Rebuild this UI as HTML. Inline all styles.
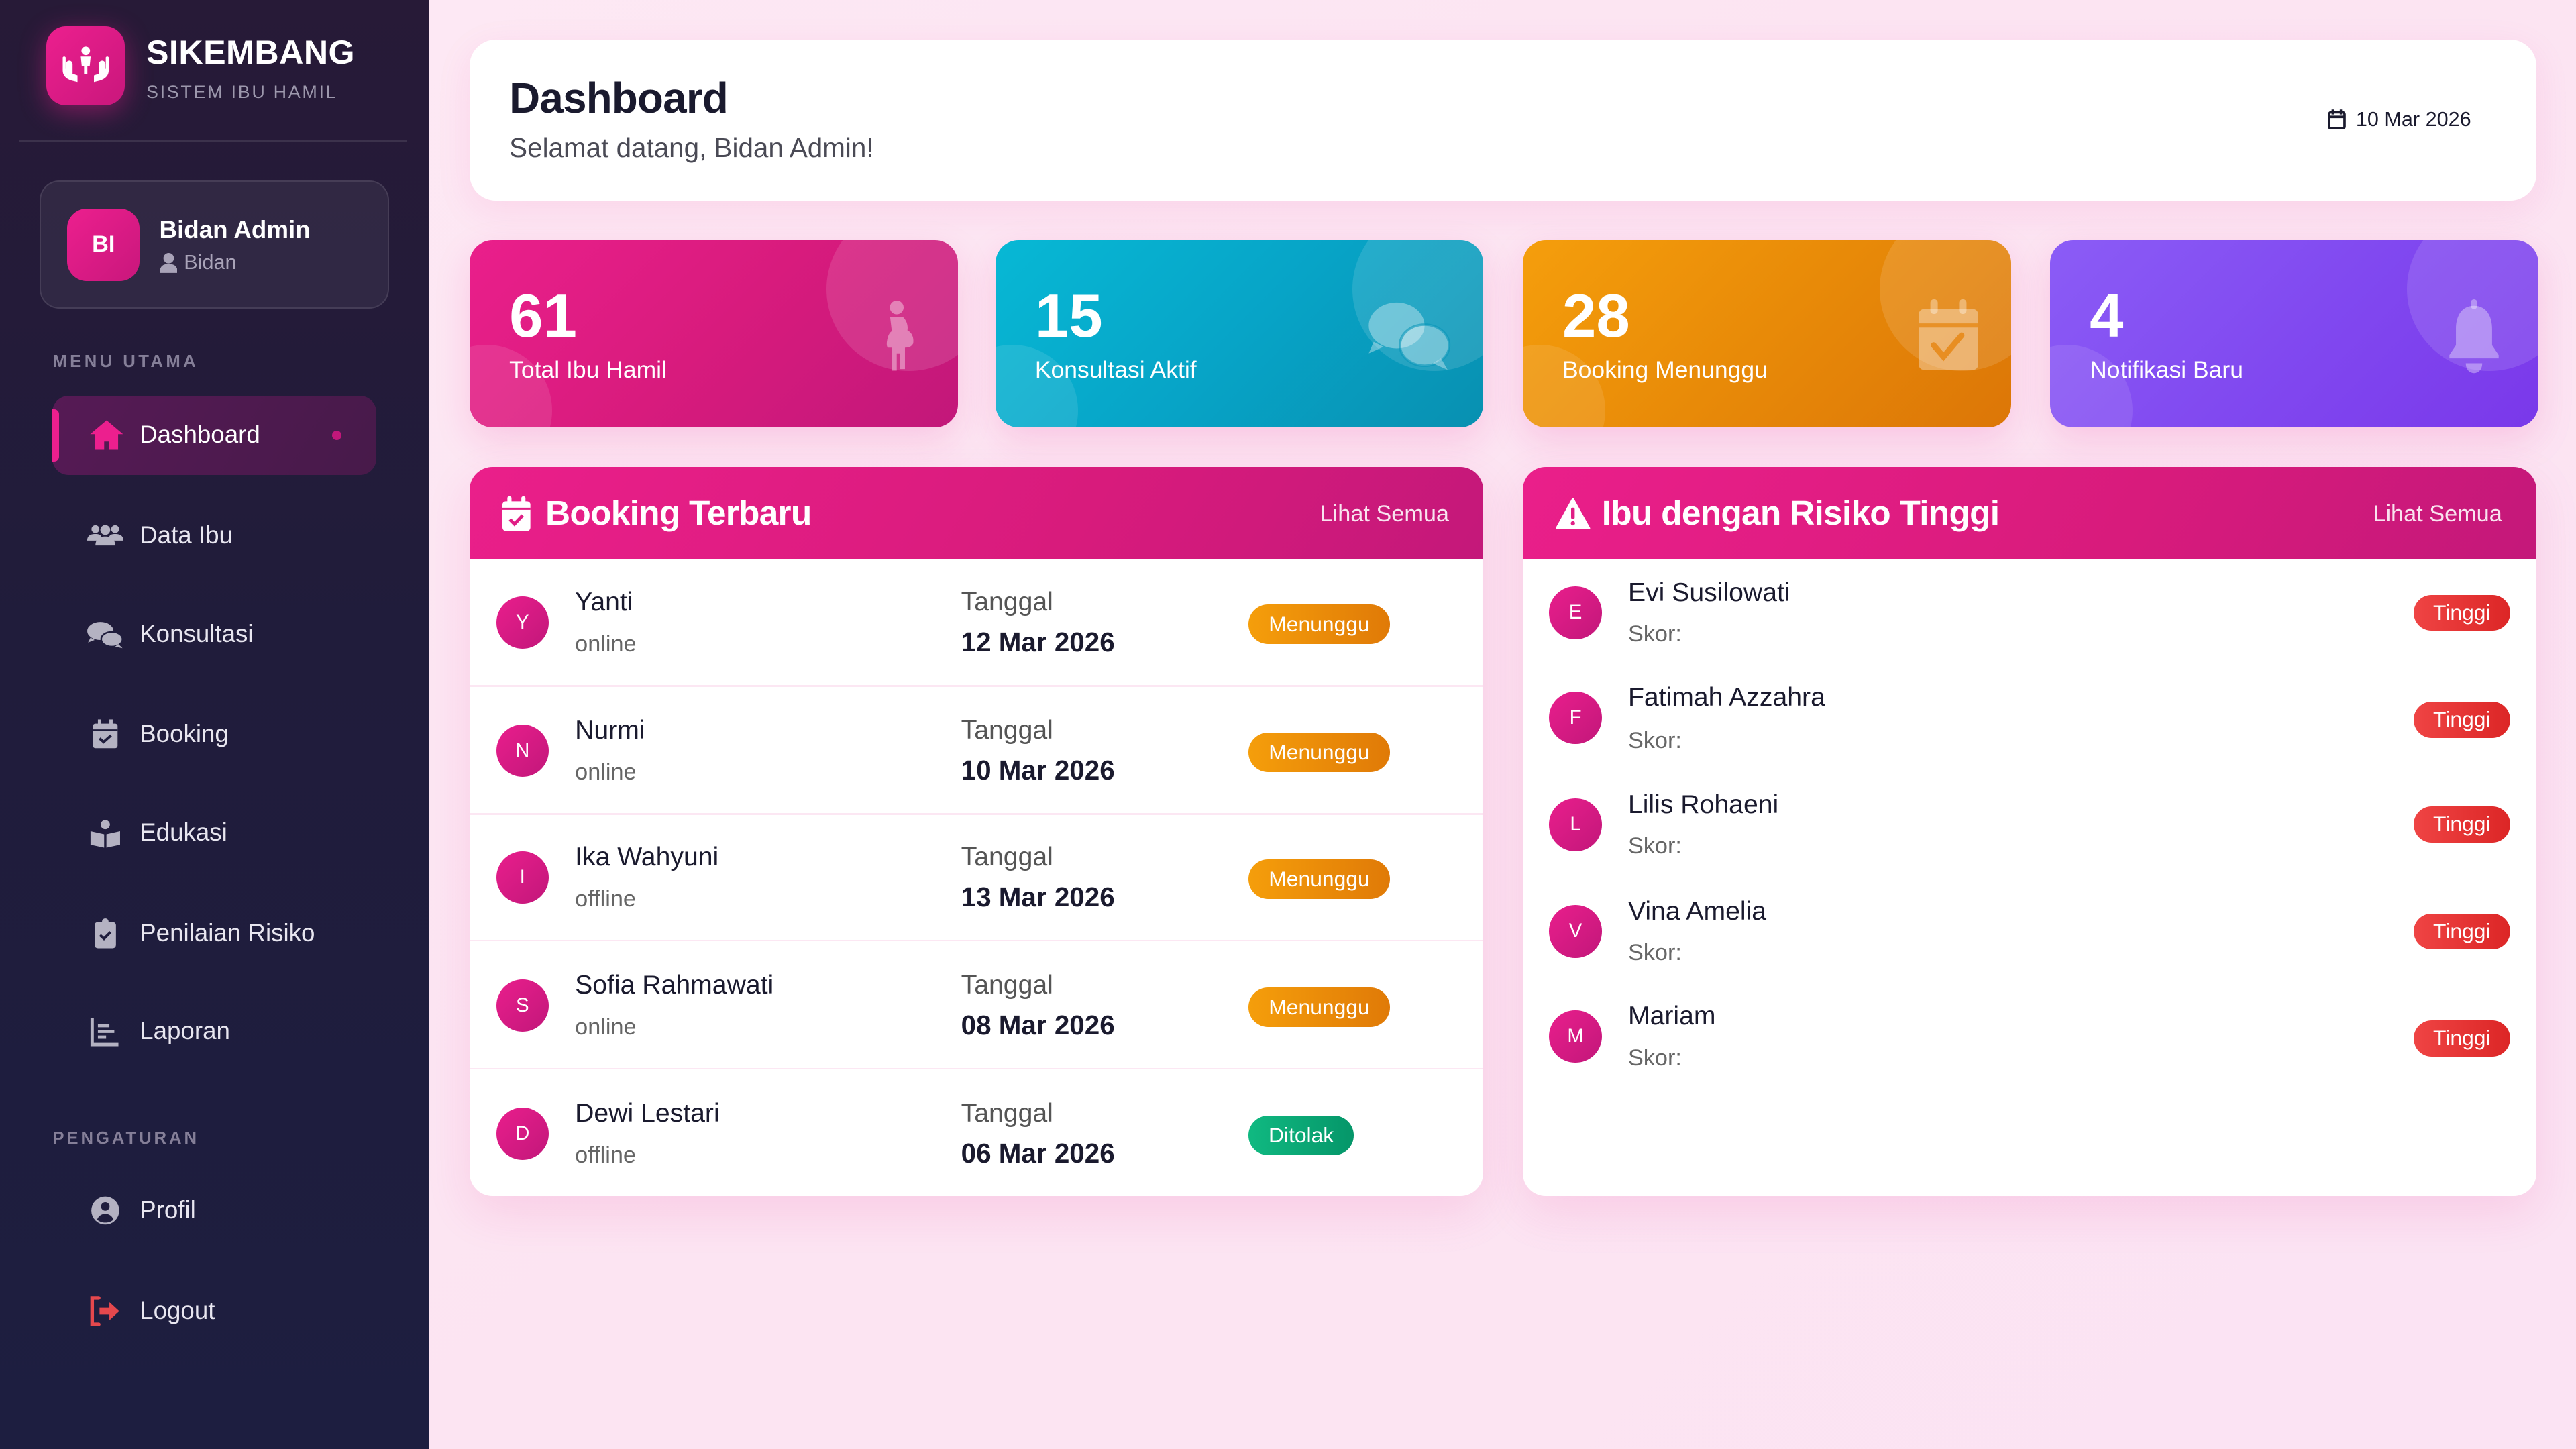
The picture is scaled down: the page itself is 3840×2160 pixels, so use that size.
<!DOCTYPE html>
<html><head><meta charset="utf-8">
<style>
*{margin:0;padding:0;box-sizing:border-box}
html,body{width:3840px;height:2160px;overflow:hidden;background:#fce6f3}
#w{position:absolute;left:0;top:0;width:1568px;height:882px;zoom:2.44898;font-family:"Liberation Sans",sans-serif;background:linear-gradient(135deg,#fde9f4 0%,#fce4f2 50%,#fbe3f3 100%);overflow:hidden}
.a{position:absolute;white-space:nowrap}
.sb{position:absolute;left:0;top:0;width:261px;height:882px;background:linear-gradient(180deg,#271a37 0%,#201c3b 45%,#1d1e40 100%)}
.mi{position:absolute;left:85px;height:20px;line-height:20px;font-size:15px;color:#e8e6f0}
.ic{position:absolute;left:53px;width:22px;height:20px}
.sec{position:absolute;left:32px;font-size:10.5px;letter-spacing:1.8px;color:#857f98;font-weight:bold;height:14px;line-height:14px}
.card{position:absolute;top:146px;width:297px;height:114px;border-radius:14px;overflow:hidden;box-shadow:0 8px 22px rgba(233,30,140,0.15)}
.card .c1{position:absolute;width:100px;height:100px;border-radius:50%;top:-20px;right:-20px;background:rgba(255,255,255,0.12)}
.card .c2{position:absolute;width:80px;height:80px;border-radius:50%;bottom:-30px;left:-30px;background:rgba(255,255,255,0.1)}
.card .n{position:absolute;left:24px;top:26px;font-size:37px;font-weight:bold;color:#fff;line-height:42px}
.card .l{position:absolute;left:24px;top:70px;font-size:14.5px;color:#fff;line-height:18px}
.card svg{position:absolute;left:241px;top:36px}
.panel{position:absolute;top:284px;width:617px;height:444px;background:#fff;border-radius:14px;overflow:hidden;box-shadow:0 10px 28px rgba(233,30,140,0.12)}
.ph{position:absolute;left:0;top:0;width:100%;height:56px;background:linear-gradient(120deg,#ea1f8a 0%,#d81b7c 60%,#c4187a 100%)}
.pt{position:absolute;left:46px;top:16px;font-size:21px;font-weight:bold;color:#fff;line-height:24px;letter-spacing:-0.3px}
.ls{position:absolute;right:21px;top:20px;font-size:14px;color:rgba(255,255,255,0.88);line-height:18px}
.av{position:absolute;left:16px;width:32px;height:32px;border-radius:50%;background:linear-gradient(135deg,#e91e8c,#c2177a);color:#fff;font-size:12px;text-align:center;line-height:32px}
.nm{position:absolute;left:64px;font-size:16px;color:#1a1a2e;line-height:20px;font-weight:500}
.sub{position:absolute;left:64px;font-size:14px;color:#666;line-height:18px}
.tg{position:absolute;left:299px;font-size:16px;color:#555;line-height:20px}
.dt{position:absolute;left:299px;font-size:16.5px;color:#1a1a2e;line-height:20px;font-weight:bold}
.bd{position:absolute;height:24px;line-height:24px;border-radius:12px;color:#fff;font-size:13px;text-align:center}
.mn{left:474px;width:86px;background:linear-gradient(90deg,#f59e0b,#e07a07)}
.tl{left:474px;width:64px;background:linear-gradient(90deg,#10b981,#059669)}
.hi{left:542px;width:59px;height:22px;line-height:22px;background:linear-gradient(90deg,#ef4444,#dc2626)}
.sep{position:absolute;left:0;width:100%;height:1px;background:#fce7f3}
</style></head><body>
<div id="w">
<!-- Sidebar -->
<div class="sb">
  <div class="a" style="left:28px;top:16px;width:48px;height:48px;border-radius:12px;background:linear-gradient(135deg,#ec1f8e,#c9177c);box-shadow:0 4px 16px rgba(233,30,140,0.45)">
    <svg width="48" height="48" viewBox="0 0 48 48">
      <circle cx="24" cy="15" r="2.6" fill="#fff"/>
      <path d="M21 18.5h6l-0.6 6h-1.4v4.5h-2v-4.5h-1.4z" fill="#fff"/>
      <path d="M10 19v8c0 3 2 5 5 6l4 1v-4l-3-1v-6a2 2 0 0 0-4 0v3h-0.2v-7a1 1 0 0 0-1.8 0z" fill="#fff"/>
      <path d="M38 19v8c0 3-2 5-5 6l-4 1v-4l3-1v-6a2 2 0 0 1 4 0v3h0.2v-7a1 1 0 0 1 1.8 0z" fill="#fff"/>
    </svg>
  </div>
  <div class="a" style="left:89px;top:20px;font-size:20.5px;font-weight:bold;color:#fff;line-height:24px;letter-spacing:0.2px">SIKEMBANG</div>
  <div class="a" style="left:89px;top:49px;font-size:11px;color:#9d98ad;line-height:14px;letter-spacing:1.1px">SISTEM IBU HAMIL</div>
  <div class="a" style="left:12px;top:85px;width:236px;height:1px;background:rgba(255,255,255,0.1)"></div>
  <div class="a" style="left:24px;top:110px;width:213px;height:78px;border-radius:12px;background:rgba(255,255,255,0.06);border:1px solid rgba(255,255,255,0.1)"></div>
  <div class="a" style="left:41px;top:127px;width:44px;height:44px;border-radius:12px;background:linear-gradient(135deg,#ec1f8e,#c9177c);color:#fff;font-weight:bold;font-size:14px;text-align:center;line-height:44px">BI</div>
  <div class="a" style="left:97px;top:131px;font-size:15px;color:#fff;font-weight:bold;line-height:18px">Bidan Admin</div>
  <svg class="a" style="left:97px;top:153px" width="11" height="13" viewBox="0 0 11 13"><circle cx="5.5" cy="4" r="3.2" fill="#a9a3b8"/><path d="M0 13c0-4 2-5.5 5.5-5.5S11 9 11 13z" fill="#a9a3b8"/></svg>
  <div class="a" style="left:112px;top:152px;font-size:12.5px;color:#a9a3b8;line-height:16px">Bidan</div>

  <div class="sec" style="top:213px">MENU UTAMA</div>
  <div class="a" style="left:32px;top:241px;width:197px;height:48px;border-radius:10px;background:linear-gradient(120deg,#561a55,#471a4a)"></div>
  <div class="a" style="left:32px;top:249px;width:4px;height:32px;border-radius:0 3px 3px 0;background:#ec1f8e"></div>
  <svg class="ic" style="top:255px;left:54px" viewBox="0 0 22 20"><path d="M11 1L1 9.5h3V19h5.5v-5h3v5H18V9.5h3z" fill="#ec1f8e"/></svg>
  <div class="mi" style="top:255px;color:#fff">Dashboard</div>
  <div class="a" style="left:202px;top:262px;width:6px;height:6px;border-radius:50%;background:#c2177a"></div>

  <svg class="ic" style="top:316px" viewBox="0 0 22 20"><circle cx="5" cy="6" r="2.4" fill="#b4b2c2"/><circle cx="17" cy="6" r="2.4" fill="#b4b2c2"/><circle cx="11" cy="6.5" r="3" fill="#b4b2c2"/><path d="M0 13c0-3 2-4 5-4s4 1 4 4z M13 13c0-3 1-4 4-4s5 1 5 4z" fill="#b4b2c2"/><path d="M5 16c0-4 2.5-5.5 6-5.5s6 1.5 6 5.5z" fill="#b4b2c2"/></svg>
  <div class="mi" style="top:316px">Data Ibu</div>
  <svg class="ic" style="top:376px" viewBox="0 0 22 20"><ellipse cx="8" cy="8" rx="8" ry="5.5" fill="#b4b2c2"/><path d="M2 12l-1.5 3 4-1.5z" fill="#b4b2c2"/><ellipse cx="15" cy="13" rx="6.5" ry="4.5" fill="#b4b2c2" stroke="#1f1d3d" stroke-width="1"/><path d="M19 16l2.5 2.5-4.5-1z" fill="#b4b2c2"/></svg>
  <div class="mi" style="top:376px">Konsultasi</div>
  <svg class="ic" style="top:437px" viewBox="0 0 22 20"><rect x="3.5" y="3.5" width="15" height="15" rx="1.5" fill="#b4b2c2"/><rect x="6.5" y="1" width="2" height="4" fill="#b4b2c2"/><rect x="13.5" y="1" width="2" height="4" fill="#b4b2c2"/><path d="M3.5 7.5h15" stroke="#1f1d3d" stroke-width="1"/><path d="M7.5 12.5l2.5 2.2 4.5-4" stroke="#1f1d3d" stroke-width="1.6" fill="none"/></svg>
  <div class="mi" style="top:437px">Booking</div>
  <svg class="ic" style="top:497px" viewBox="0 0 22 20"><circle cx="11" cy="5" r="2.8" fill="#b4b2c2"/><path d="M2 9l8.3 1.8V19L2 17.2z M20 9l-8.3 1.8V19L20 17.2z" fill="#b4b2c2"/></svg>
  <div class="mi" style="top:497px">Edukasi</div>
  <svg class="ic" style="top:558px" viewBox="0 0 22 20"><rect x="4.5" y="3" width="13" height="16" rx="2" fill="#b4b2c2"/><circle cx="11" cy="2.8" r="2" fill="#b4b2c2"/><path d="M7.8 11l2.4 2.2 4-4" stroke="#1f1d3d" stroke-width="1.6" fill="none"/></svg>
  <div class="mi" style="top:558px">Penilaian Risiko</div>
  <svg class="ic" style="top:618px" viewBox="0 0 22 20"><path d="M3 2v16h16" stroke="#b4b2c2" stroke-width="2" fill="none"/><path d="M6.5 6.5h7 M6.5 10h10 M6.5 13.5h5" stroke="#b4b2c2" stroke-width="2"/></svg>
  <div class="mi" style="top:618px">Laporan</div>

  <div class="sec" style="top:686px;font-weight:bold;letter-spacing:1.6px">PENGATURAN</div>
  <svg class="ic" style="top:727px" viewBox="0 0 22 20"><circle cx="11" cy="10" r="8.5" fill="#b4b2c2"/><circle cx="11" cy="7.5" r="2.6" fill="#1f1d3d"/><path d="M6 15.5c1-2.5 3-3.5 5-3.5s4 1 5 3.5c-1.3 1.2-3 1.8-5 1.8s-3.7-.6-5-1.8z" fill="#1f1d3d"/></svg>
  <div class="mi" style="top:727px">Profil</div>
  <svg class="ic" style="top:788px" viewBox="0 0 22 20"><path d="M7 2H3v16h4" stroke="#e5484d" stroke-width="2.2" fill="none" stroke-linecap="round"/><path d="M7.5 8h6V4.5l6 5.5-6 5.5V12h-6z" fill="#e5484d"/></svg>
  <div class="mi" style="top:788px">Logout</div>
</div>

<!-- Header -->
<div class="a" style="left:286px;top:24px;width:1258px;height:98px;background:#fff;border-radius:16px;box-shadow:0 6px 22px rgba(233,30,140,0.09)"></div>
<div class="a" style="left:310px;top:44px;font-size:26px;font-weight:bold;color:#1a1a2e;line-height:32px;letter-spacing:-0.3px">Dashboard</div>
<div class="a" style="left:310px;top:80px;font-size:16.5px;color:#4a4a55;line-height:20px">Selamat datang, Bidan Admin!</div>
<svg class="a" style="left:1417px;top:66px" width="11" height="13" viewBox="0 0 11 13"><rect x="0.8" y="2.2" width="9.4" height="10" rx="1.2" stroke="#1a1a2e" stroke-width="1.5" fill="none"/><path d="M0.8 5h9.4" stroke="#1a1a2e" stroke-width="1.5"/><path d="M3 0.5v3 M8 0.5v3" stroke="#1a1a2e" stroke-width="1.4"/></svg>
<div class="a" style="left:1434px;top:65px;font-size:12.5px;color:#1a1a2e;line-height:16px">10 Mar 2026</div>

<!-- Stat cards -->
<div class="card" style="left:286px;background:linear-gradient(135deg,#ea1f8b 0%,#d81b7d 50%,#c2177a 100%)">
  <div class="c1"></div><div class="c2"></div>
  <div class="n">61</div><div class="l">Total Ibu Hamil</div>
  <svg width="32" height="44" viewBox="0 0 32 44" style="left:245px"><circle cx="15" cy="5" r="4.2" fill="rgba(255,255,255,0.38)"/><path d="M11 11h8c2 2 3 5 2.5 8 3 1.5 4 4.5 3.5 8-1 2-3 2.5-5 2.5v13h-3V33h-2v10.5h-3v-14h-2.5c-1-1.5-.5-4 0-6 .5-2 1.5-3.5 2.5-4z" fill="rgba(255,255,255,0.38)"/></svg>
</div>
<div class="card" style="left:606px;background:linear-gradient(135deg,#07b8d5 0%,#07a4c7 50%,#0890b1 100%)">
  <div class="c1"></div><div class="c2"></div>
  <div class="n">15</div><div class="l">Konsultasi Aktif</div>
  <svg width="56" height="46" viewBox="0 0 56 46" style="left:224px;top:36px"><ellipse cx="20" cy="16" rx="17" ry="14" fill="rgba(255,255,255,0.35)"/><path d="M6 26l-3 7 9-4z" fill="rgba(255,255,255,0.35)"/><ellipse cx="37" cy="28" rx="15" ry="12.5" fill="rgba(255,255,255,0.35)" stroke="rgba(8,150,185,0.6)" stroke-width="1.5"/><path d="M47 36l4 7-9-4z" fill="rgba(255,255,255,0.35)"/></svg>
</div>
<div class="card" style="left:927px;background:linear-gradient(135deg,#f59e0c 0%,#e88a08 50%,#dc7607 100%)">
  <div class="c1"></div><div class="c2"></div>
  <div class="n">28</div><div class="l">Booking Menunggu</div>
  <svg width="38" height="44" viewBox="0 0 38 44" style="left:240px;top:36px"><rect x="1" y="6" width="36" height="37" rx="3" fill="rgba(255,255,255,0.35)"/><rect x="8" y="0" width="4.5" height="9" rx="2" fill="rgba(255,255,255,0.35)"/><rect x="25.5" y="0" width="4.5" height="9" rx="2" fill="rgba(255,255,255,0.35)"/><path d="M1 16h36" stroke="rgba(230,130,8,0.7)" stroke-width="2.5"/><path d="M10 28l6 7 11-13" stroke="rgba(230,130,8,0.75)" stroke-width="3.5" fill="none" stroke-linecap="round"/></svg>
</div>
<div class="card" style="left:1248px;background:linear-gradient(135deg,#8b5cf6 0%,#8149f0 50%,#7a38ea 100%)">
  <div class="c1"></div><div class="c2"></div>
  <div class="n">4</div><div class="l">Notifikasi Baru</div>
  <svg width="40" height="46" viewBox="0 0 40 46" style="left:238px;top:36px"><rect x="18" y="0" width="4" height="6" rx="2" fill="rgba(255,255,255,0.35)"/><path d="M20 4c-8 0-11 7-11 14v10l-4 6v2h30v-2l-4-6V18c0-7-3-14-11-14z" fill="rgba(255,255,255,0.35)"/><path d="M15 39h10c0 4-2.5 6-5 6s-5-2-5-6z" fill="rgba(255,255,255,0.35)"/></svg>
</div>

<!-- Booking panel -->
<div class="panel" style="left:286px">
  <div class="ph">
    <svg class="a" style="left:20px;top:18px" width="17" height="21" viewBox="0 0 17 21"><rect x="0" y="3" width="17" height="18" rx="2" fill="#fff"/><rect x="3" y="0" width="2.5" height="5" rx="1" fill="#fff"/><rect x="11.5" y="0" width="2.5" height="5" rx="1" fill="#fff"/><path d="M0 7.5h17" stroke="#e01e85" stroke-width="1.2"/><path d="M4.5 14l2.8 2.8 5-5.3" stroke="#e01e85" stroke-width="2" fill="none"/></svg>
    <div class="pt">Booking Terbaru</div>
    <div class="ls">Lihat Semua</div>
  </div>
  <!-- rows: centers relative to panel: 95,173,250,328,406 -->
  <div class="av" style="top:79px">Y</div>
  <div class="nm" style="top:73px">Yanti</div><div class="sub" style="top:99px">online</div>
  <div class="tg" style="top:73px">Tanggal</div><div class="dt" style="top:97px">12 Mar 2026</div>
  <div class="bd mn" style="top:84px">Menunggu</div>
  <div class="sep" style="top:133px"></div>

  <div class="av" style="top:157px">N</div>
  <div class="nm" style="top:151px">Nurmi</div><div class="sub" style="top:177px">online</div>
  <div class="tg" style="top:151px">Tanggal</div><div class="dt" style="top:175px">10 Mar 2026</div>
  <div class="bd mn" style="top:162px">Menunggu</div>
  <div class="sep" style="top:211px"></div>

  <div class="av" style="top:234px">I</div>
  <div class="nm" style="top:228px">Ika Wahyuni</div><div class="sub" style="top:254px">offline</div>
  <div class="tg" style="top:228px">Tanggal</div><div class="dt" style="top:252px">13 Mar 2026</div>
  <div class="bd mn" style="top:239px">Menunggu</div>
  <div class="sep" style="top:288px"></div>

  <div class="av" style="top:312px">S</div>
  <div class="nm" style="top:306px">Sofia Rahmawati</div><div class="sub" style="top:332px">online</div>
  <div class="tg" style="top:306px">Tanggal</div><div class="dt" style="top:330px">08 Mar 2026</div>
  <div class="bd mn" style="top:317px">Menunggu</div>
  <div class="sep" style="top:366px"></div>

  <div class="av" style="top:390px">D</div>
  <div class="nm" style="top:384px">Dewi Lestari</div><div class="sub" style="top:410px">offline</div>
  <div class="tg" style="top:384px">Tanggal</div><div class="dt" style="top:408px">06 Mar 2026</div>
  <div class="bd tl" style="top:395px">Ditolak</div>
</div>

<!-- Risk panel -->
<div class="panel" style="left:927px">
  <div class="ph">
    <svg class="a" style="left:20px;top:19px" width="21" height="19" viewBox="0 0 21 19"><path d="M10.5 0.5L20.5 18.5H0.5z" fill="#fff" stroke="#fff" stroke-linejoin="round" stroke-width="1"/><rect x="9.4" y="6" width="2.2" height="7" rx="1" fill="#e01e85"/><circle cx="10.5" cy="15.5" r="1.3" fill="#e01e85"/></svg>
    <div class="pt" style="left:48px">Ibu dengan Risiko Tinggi</div>
    <div class="ls">Lihat Semua</div>
  </div>
  <!-- centers relative: 89,153.5,218,283,347.5 -->
  <div class="av" style="top:73px">E</div>
  <div class="nm" style="top:67px">Evi Susilowati</div><div class="sub" style="top:93px">Skor:</div>
  <div class="bd hi" style="top:78px">Tinggi</div>

  <div class="av" style="top:137px">F</div>
  <div class="nm" style="top:131px">Fatimah Azzahra</div><div class="sub" style="top:158px">Skor:</div>
  <div class="bd hi" style="top:143px">Tinggi</div>

  <div class="av" style="top:202px">L</div>
  <div class="nm" style="top:196px">Lilis Rohaeni</div><div class="sub" style="top:222px">Skor:</div>
  <div class="bd hi" style="top:207px">Tinggi</div>

  <div class="av" style="top:267px">V</div>
  <div class="nm" style="top:261px">Vina Amelia</div><div class="sub" style="top:287px">Skor:</div>
  <div class="bd hi" style="top:272px">Tinggi</div>

  <div class="av" style="top:331px">M</div>
  <div class="nm" style="top:325px">Mariam</div><div class="sub" style="top:351px">Skor:</div>
  <div class="bd hi" style="top:337px">Tinggi</div>
</div>
</div>
</body></html>
